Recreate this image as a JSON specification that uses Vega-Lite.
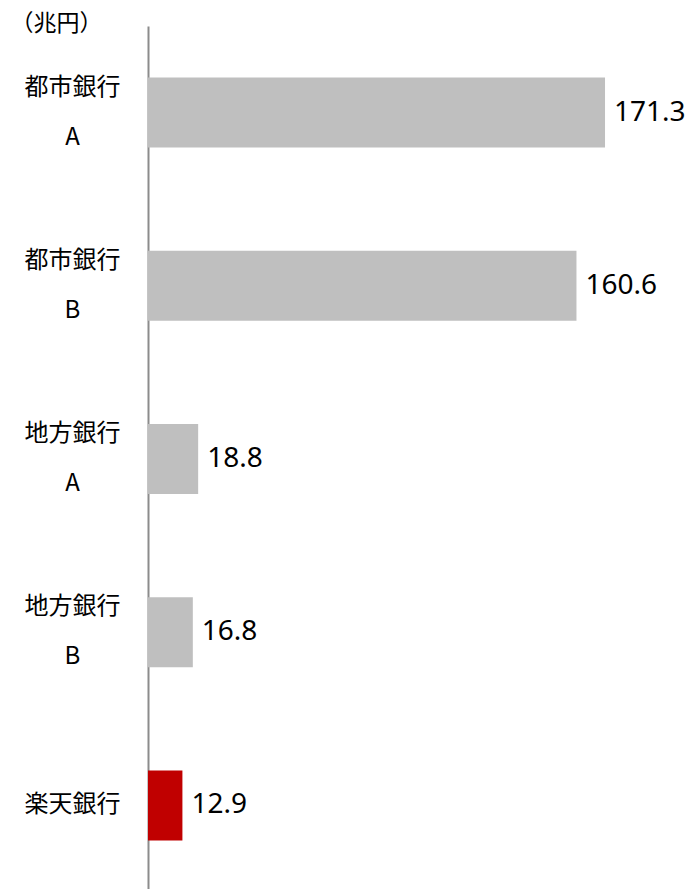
{
  "$schema": "https://vega.github.io/schema/vega-lite/v6.json",
  "autosize": {"type": "none"},
  "padding": {"left": 148, "top": 26, "right": 0, "bottom": 0},
  "width": 548,
  "height": 866,
  "background": "white",
  "config": {"view": {"stroke": null}, "font": "Noto Sans CJK JP"},
  "data": {
    "values": [
      {"bank": "都市銀行\nA", "value": 171.3, "highlight": "no"},
      {"bank": "都市銀行\nB", "value": 160.6, "highlight": "no"},
      {"bank": "地方銀行\nA", "value": 18.8, "highlight": "no"},
      {"bank": "地方銀行\nB", "value": 16.8, "highlight": "no"},
      {"bank": "楽天銀行", "value": 12.9, "highlight": "yes"}
    ]
  },
  "encoding": {
    "y": {
      "field": "bank",
      "type": "nominal",
      "sort": null,
      "scale": {"paddingInner": 0, "paddingOuter": 0},
      "axis": {
        "title": "（兆円）",
        "titleAngle": 0,
        "titleAlign": "left",
        "titleBaseline": "middle",
        "titleX": -138,
        "titleY": -3,
        "titleFontSize": 23,
        "titleFontWeight": "normal",
        "titleColor": "#000000",
        "titleFont": "Noto Sans CJK JP",
        "ticks": false,
        "tickSize": 0,
        "domainColor": "#8c8c8c",
        "domainWidth": 2,
        "labelAlign": "center",
        "labelPadding": 76,
        "labelFontSize": 24,
        "labelColor": "#000000",
        "labelLineHeight": 50,
        "labelOffset": {"condition": {"test": "indexof(datum.value, '\\n') >= 0", "value": -25}, "value": 0},
        "labelExpr": "split(datum.label, '\\n')",
        "labelFont": "Noto Sans CJK JP"
      }
    },
    "x": {
      "field": "value",
      "type": "quantitative",
      "scale": {"domain": [0, 205.4], "nice": false},
      "axis": null
    }
  },
  "layer": [
    {
      "mark": {"type": "bar", "size": 70, "x": 1},
      "encoding": {
        "color": {
          "field": "highlight",
          "type": "nominal",
          "scale": {"domain": ["no", "yes"], "range": ["#bfbfbf", "#c00000"]},
          "legend": null
        }
      }
    },
    {
      "mark": {"type": "text", "align": "left", "baseline": "middle", "dx": 9, "fontSize": 28, "color": "#000000", "font": "Noto Sans"},
      "encoding": {
        "text": {"field": "value", "type": "quantitative", "format": ".1f"}
      }
    }
  ]
}
